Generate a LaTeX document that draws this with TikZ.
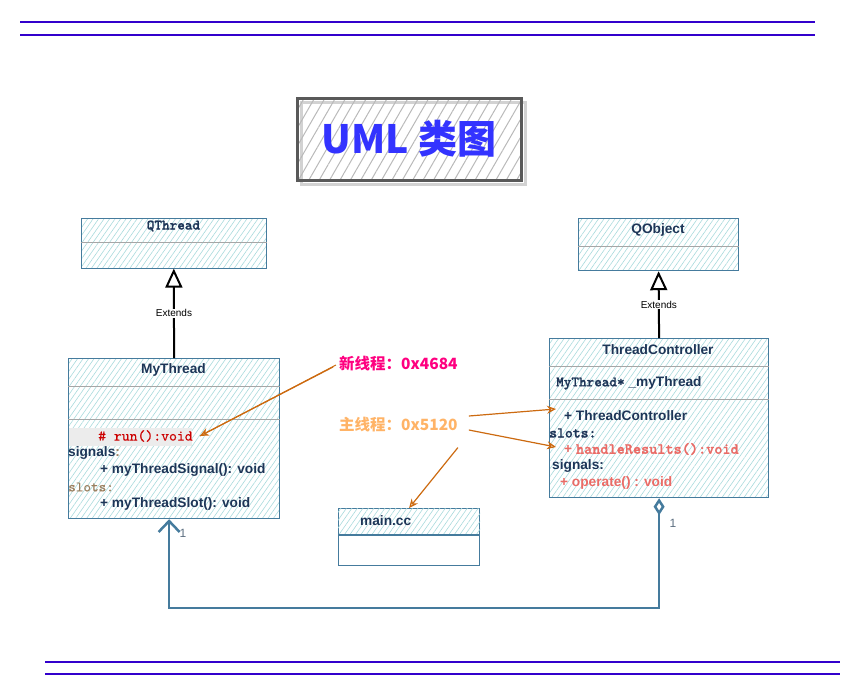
\documentclass[tikz,border=0pt]{standalone}
\usepackage{fontspec}
\setsansfont{Liberation Sans}
\newfontfamily\cjk{Noto Sans CJK SC}
\newfontfamily\codefont{lmmonolt10-bold.otf}[FakeBold=1.2]
\newfontfamily\codethin{lmmono10-regular.otf}[FakeBold=0.4]
\usepackage{xcolor}
\usepackage{tikz}
\usetikzlibrary{calc, positioning, arrows.meta, patterns.meta}

\definecolor{navy}{HTML}{1D3557}
\definecolor{khung}{HTML}{457B9D}
\definecolor{gach}{HTML}{A8DADC}
\definecolor{tim}{HTML}{3300CC}
\definecolor{cam}{HTML}{CC6A10}
\definecolor{hong}{HTML}{EA6B66}
\definecolor{nau}{HTML}{9C8060}
\definecolor{xanhchu}{HTML}{3333FF}
\definecolor{moi}{HTML}{FF0080}
\definecolor{chinh}{HTML}{FFB366}
\definecolor{so}{HTML}{5C6E80}

\tikzset{
    lop/.style={draw=khung, line width=1.2pt, anchor=north west, inner sep=0pt,
        pattern={Lines[angle=55, distance=4.5pt, line width=0.6pt]}, pattern color=gach},
    vach/.style={gray!70, line width=0.8pt},
    chu/.style={font=\sffamily\bfseries\fontsize{13.7}{16}\selectfont, text=navy, inner sep=0pt, anchor=west},
    ma/.style={font=\codefont\fontsize{15}{17}\selectfont, text=navy, inner sep=0pt, anchor=west},
    mat/.style={font=\codethin\fontsize{15}{17}\selectfont, inner sep=0pt, anchor=west},
    ketiep/.style={line width=2pt, -{Triangle[open, length=19pt, width=17pt]}},
    nhan/.style={font=\sffamily\fontsize{10}{12}\selectfont, fill=white, inner sep=1pt},
    chi/.style={draw=cam, line width=1.2pt, -{Stealth[open, length=9pt, width=8pt]}},
}

\begin{document}
\begin{tikzpicture}[x=1pt, y=-1pt]
    \useasboundingbox (0,0) rectangle (863,697);

    % Đường kẻ trên và dưới
    \draw[tim, line width=2pt] (20,22) -- (815,22);
    \draw[tim, line width=2pt] (20,35) -- (815,35);
    \draw[tim, line width=2pt] (45,662) -- (840,662);
    \draw[tim, line width=2pt] (45,674) -- (840,674);

    % Tiêu đề
    \draw[gray!35, line width=3pt] (301,102) rectangle (525,184);
    \node[draw=black!65, line width=3pt, minimum width=224, minimum height=82, inner sep=0pt,
        pattern={Lines[angle=60, distance=9pt, line width=1pt]}, pattern color=gray!55,
        font=\cjk\bfseries\fontsize{39}{44}\selectfont, text=xanhchu] (tieude) at (409,139) {UML 类图};

    % Lớp QThread
    \node[lop, minimum width=185, minimum height=50] (qthread) at (81,218) {};
    \draw[vach] ([yshift=-24pt]qthread.north west) -- ([yshift=-24pt]qthread.north east);
    \node[ma, anchor=center, font=\codefont\fontsize{14.5}{16}\selectfont] (tenqt) at (173.5,226) {QThread};

    % Lớp QObject
    \node[lop, minimum width=160, minimum height=52] (qobject) at (578,218) {};
    \draw[vach] ([yshift=-28pt]qobject.north west) -- ([yshift=-28pt]qobject.north east);
    \node[chu, anchor=center] (tenqo) at (658,230) {QObject};

    % Lớp MyThread
    \node[lop, minimum width=211, minimum height=160] (mythread) at (68,358) {};
    \draw[vach] ([yshift=-28pt]mythread.north west) -- ([yshift=-28pt]mythread.north east);
    \draw[vach] ([yshift=-61pt]mythread.north west) -- ([yshift=-61pt]mythread.north east);
    \node[chu, anchor=center] (tenmt) at (173.5,370) {MyThread};
    \fill[gray!15] (69,428) rectangle (192,446);
    \node[mat, text=red!80!black] (run) at (98,436) {\# run():void};
    \node[chu] (sigmt) at (68,453) {signals\textcolor{nau}{:}};
    \node[chu] (sigmtA) at (100,470) {+ myThreadSignal(): void};
    \node[mat, text=nau, font=\codethin\fontsize{14.5}{16}\selectfont] (slotmt) at (68,487) {slots:};
    \node[chu] (slotmtA) at (100,504) {+ myThreadSlot(): void};

    % Lớp ThreadController
    \node[lop, minimum width=219, minimum height=159] (ctrl) at (549,338) {};
    \draw[vach] ([yshift=-28pt]ctrl.north west) -- ([yshift=-28pt]ctrl.north east);
    \draw[vach] ([yshift=-61pt]ctrl.north west) -- ([yshift=-61pt]ctrl.north east);
    \node[chu, anchor=center] (tenct) at (658,350) {ThreadController};
    \node[chu] (thuoctinh) at (556,383) {{\codefont\fontsize{14.5}{16}\selectfont MyThread*} \_myThread};
    \node[chu] (ctor) at (564,416) {+ ThreadController};
    \node[ma] (slotct) at (549,433) {slots:};
    \node[chu, text=hong] (handle) at (564,449) {+ {\codefont\fontsize{15.5}{17}\selectfont handleResults():void}};
    \node[chu] (sigct) at (552,466) {signals:};
    \node[chu, text=hong] (op) at (560,483) {+ operate() : void};

    % main.cc
    \node[draw=khung, line width=1.2pt, anchor=north west, minimum width=141, minimum height=57] (maincc) at (338,508) {};
    \fill[pattern={Lines[angle=55, distance=4.5pt, line width=0.6pt]}, pattern color=gach]
        (maincc.north west) rectangle ([yshift=-27pt]maincc.north east);
    \draw[khung, line width=1.2pt] ([yshift=-27pt]maincc.north west) -- ([yshift=-27pt]maincc.north east);
    \node[chu] (tenmc) at (360,521) {main.cc};

    % Kế thừa
    \draw[ketiep] (mythread.north) -- (qthread.south) node[midway, nhan] {Extends};
    \draw[ketiep] (ctrl.north) -- (qobject.south) node[midway, nhan] {Extends};

    % Quan hệ kết tập
    \draw[khung, line width=2.5pt, {Diamond[open, length=17pt, width=11pt]}-{Straight Barb[length=11pt, width=21pt]}]
        (ctrl.south) -- ++(0,110) -| ([xshift=-5pt]mythread.south);
    \node[font=\sffamily\fontsize{12}{14}\selectfont, text=so] (motA) at (183,533) {1};
    \node[font=\sffamily\fontsize{12}{14}\selectfont, text=so] (motB) at (673,523) {1};

    % Nhãn luồng
    \node[font=\cjk\bfseries\fontsize{15.5}{18}\selectfont, text=moi, anchor=west, inner sep=0pt] (luongmoi) at (339,364) {新线程：0x4684};
    \node[font=\cjk\bfseries\fontsize{15.5}{18}\selectfont, text=chinh, anchor=west, inner sep=0pt] (luongchinh) at (339,425) {主线程：0x5120};
    \draw[chi] ([xshift=-6pt,yshift=-3pt]luongmoi.west) -- ([xshift=7pt]run.east);
    \draw[cam, line width=1pt] ([xshift=-3pt,yshift=-1pt]luongmoi.west) -- ([xshift=7pt]run.east);
    \draw[chi] ([xshift=11pt,yshift=9pt]luongchinh.east) -- ([xshift=-8pt,yshift=7pt]ctor.west);
    \draw[chi] ([xshift=11pt,yshift=-5pt]luongchinh.east) -- ([xshift=-8pt,yshift=2pt]handle.west);
    \draw[chi] ([yshift=-15pt]luongchinh.south east) -- (maincc.north);

\end{tikzpicture}
\end{document}
